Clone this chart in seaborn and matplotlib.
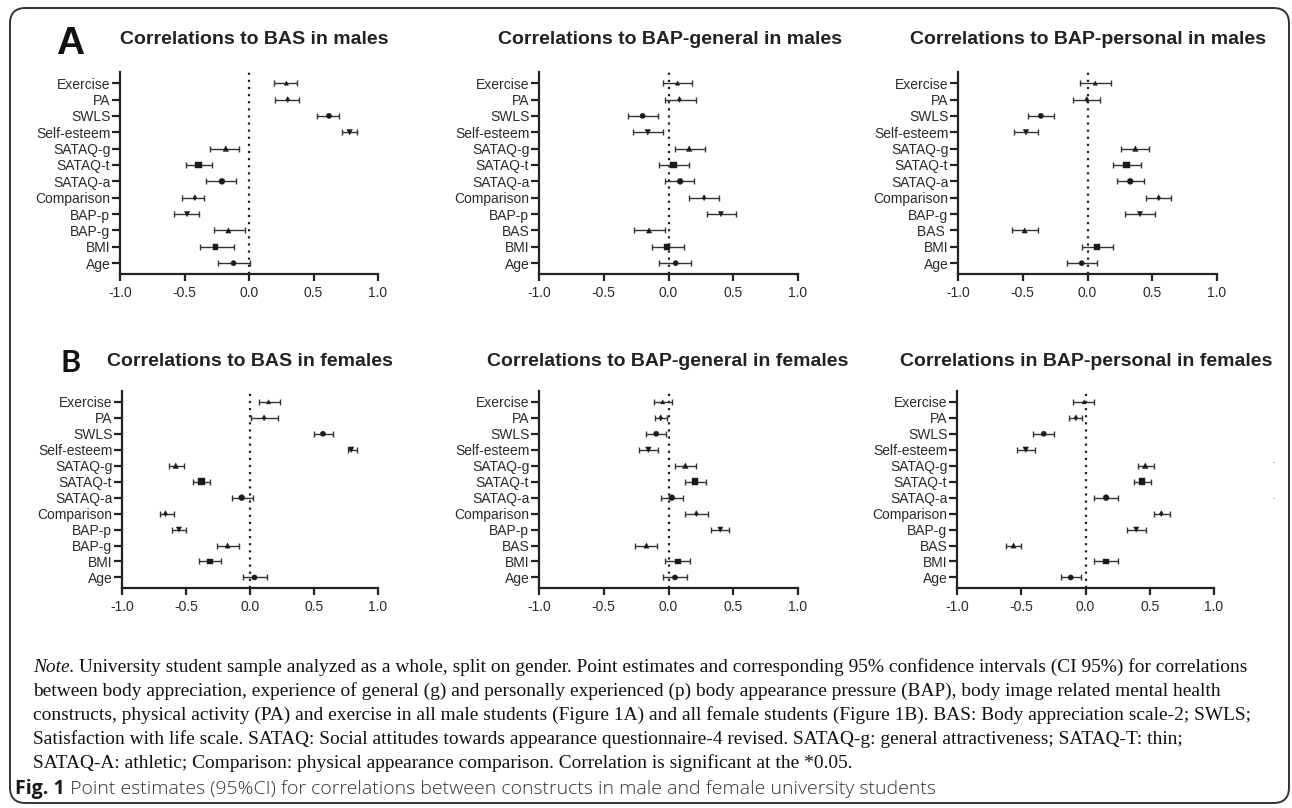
import numpy as np
import pandas as pd
import matplotlib
matplotlib.use("Agg")
import matplotlib.pyplot as plt
import seaborn as sns
from matplotlib.patches import FancyBboxPatch

# ---------------- data ----------------
labels_bas = ["Exercise", "PA", "SWLS", "Self-esteem", "SATAQ-g", "SATAQ-t",
              "SATAQ-a", "Comparison", "BAP-p", "BAP-g", "BMI", "Age"]
labels_bapg = ["Exercise", "PA", "SWLS", "Self-esteem", "SATAQ-g", "SATAQ-t",
               "SATAQ-a", "Comparison", "BAP-p", "BAS", "BMI", "Age"]
labels_bapp_m = ["Exercise", "PA", "SWLS", "Self-esteem", "SATAQ-g", "SATAQ-t",
                 "SATAQ-a", "Comparison", "BAP-g", "BAS ", "BMI", "Age"]
labels_bapp_f = ["Exercise", "PA", "SWLS", "Self-esteem", "SATAQ-g", "SATAQ-t",
                 "SATAQ-a", "Comparison", "BAP-g", "BAS", "BMI", "Age"]

# A: males
bas_m_r = [0.29, 0.30, 0.62, 0.78, -0.18, -0.39, -0.21, -0.42, -0.48, -0.16, -0.26, -0.12]
bas_m_lo = [0.19, 0.20, 0.53, 0.72, -0.30, -0.49, -0.33, -0.52, -0.58, -0.27, -0.38, -0.24]
bas_m_hi = [0.375, 0.39, 0.70, 0.835, -0.08, -0.29, -0.10, -0.35, -0.385, -0.03, -0.12, 0.005]

bapg_m_r = [0.07, 0.085, -0.20, -0.16, 0.16, 0.04, 0.09, 0.275, 0.405, -0.15, -0.01, 0.055]
bapg_m_lo = [-0.04, -0.03, -0.31, -0.275, 0.05, -0.075, -0.025, 0.16, 0.30, -0.27, -0.13, -0.07]
bapg_m_hi = [0.185, 0.21, -0.08, -0.045, 0.28, 0.16, 0.20, 0.39, 0.52, -0.03, 0.12, 0.175]

bapp_m_r = [0.06, -0.005, -0.36, -0.475, 0.37, 0.30, 0.33, 0.55, 0.405, -0.485, 0.07, -0.045]
bapp_m_lo = [-0.06, -0.11, -0.46, -0.57, 0.26, 0.20, 0.23, 0.455, 0.29, -0.58, -0.045, -0.155]
bapp_m_hi = [0.185, 0.095, -0.26, -0.38, 0.475, 0.41, 0.435, 0.645, 0.52, -0.38, 0.20, 0.07]

# B: females
bas_f_r = [0.145, 0.11, 0.57, 0.79, -0.58, -0.38, -0.065, -0.66, -0.555, -0.175, -0.315, 0.035]
bas_f_lo = [0.07, 0.005, 0.50, 0.765, -0.635, -0.445, -0.14, -0.70, -0.61, -0.255, -0.395, -0.055]
bas_f_hi = [0.235, 0.22, 0.645, 0.835, -0.515, -0.31, 0.02, -0.59, -0.50, -0.085, -0.23, 0.13]

bapg_f_r = [-0.045, -0.06, -0.095, -0.155, 0.13, 0.205, 0.025, 0.215, 0.40, -0.17, 0.07, 0.05]
bapg_f_lo = [-0.11, -0.105, -0.17, -0.23, 0.05, 0.13, -0.055, 0.13, 0.33, -0.26, -0.025, -0.045]
bapg_f_hi = [0.03, -0.01, -0.02, -0.08, 0.215, 0.29, 0.11, 0.305, 0.47, -0.09, 0.165, 0.145]

bapp_f_r = [-0.01, -0.075, -0.325, -0.465, 0.465, 0.44, 0.16, 0.59, 0.395, -0.56, 0.16, -0.115]
bapp_f_lo = [-0.10, -0.125, -0.405, -0.535, 0.41, 0.375, 0.07, 0.53, 0.325, -0.615, 0.07, -0.19]
bapp_f_hi = [0.07, -0.025, -0.245, -0.395, 0.53, 0.51, 0.25, 0.655, 0.47, -0.50, 0.25, -0.035]

x_ticks = [-1.0, -0.5, 0.0, 0.5, 1.0]
x_ticklabels = ["-1.0", "-0.5", "0.0", "0.5", "1.0"]

titles = ["Correlations to BAS in males",
          "Correlations to BAP-general in males",
          "Correlations to BAP-personal in males",
          "Correlations to BAS in females",
          "Correlations to BAP-general in females",
          "Correlations in BAP-personal in females"]

note_lines = [
    "University student sample analyzed as a whole, split on gender. Point estimates and corresponding 95% confidence intervals (CI 95%) for correlations",
    "between body appreciation, experience of general (g) and personally experienced (p) body appearance pressure (BAP), body image related mental health",
    "constructs, physical activity (PA) and exercise in all male students (Figure 1A) and all female students (Figure 1B). BAS: Body appreciation scale-2; SWLS;",
    "Satisfaction with life scale. SATAQ: Social attitudes towards appearance questionnaire-4 revised. SATAQ-g: general attractiveness; SATAQ-T: thin;",
    "SATAQ-A: athletic; Comparison: physical appearance comparison. Correlation is significant at the *0.05.",
]
caption_bold = "Fig. 1"
caption_text = " Point estimates (95%CI) for correlations between constructs in male and female university students"

# ---------------- style ----------------
sns.set_theme(style="ticks")
plt.rcParams["font.family"] = ["Liberation Sans", "DejaVu Sans"]
plt.rcParams["axes.unicode_minus"] = False

row_markers = ["^", "d", "o", "v", "^", "s", "o", "d", "v", "^", "s", "o"]
row_sizes = [9, 9, 14, 16, 16, 22, 18, 9, 14, 14, 18, 14]
INK = "#222222"

W, H = 1292, 808
fig = plt.figure(figsize=(W / 100, H / 100), dpi=100)


def fx(px):
    return px / W


def fy(py):
    return 1 - py / H


# axes boxes in pixels: (left, right, top, bottom)
boxes = [(120, 378, 72, 274), (539, 798, 72, 274), (958, 1217, 72, 274),
         (122, 378, 391, 588), (539, 798, 391, 588), (957, 1214, 391, 588)]
title_pos = [(254, 39), (670, 39), (1088, 39), (250, 362), (668, 362), (1086, 362)]

panels = [
    (labels_bas, bas_m_r, bas_m_lo, bas_m_hi),
    (labels_bapg, bapg_m_r, bapg_m_lo, bapg_m_hi),
    (labels_bapp_m, bapp_m_r, bapp_m_lo, bapp_m_hi),
    (labels_bas, bas_f_r, bas_f_lo, bas_f_hi),
    (labels_bapg, bapg_f_r, bapg_f_lo, bapg_f_hi),
    (labels_bapp_f, bapp_f_r, bapp_f_lo, bapp_f_hi),
]

for i, ((labels, r, lo, hi), (l, rt, t, b)) in enumerate(zip(panels, boxes)):
    ax = fig.add_axes([fx(l), fy(b), fx(rt - l), (b - t) / H])
    df = pd.DataFrame({"label": labels, "r": r, "lo": lo, "hi": hi})
    df["pos"] = np.arange(len(df))
    ax.axvline(0, color=INK, lw=1.6, ls=(0, (1, 2.2)), zorder=1)
    ax.errorbar(df["r"], df["pos"],
                xerr=[df["r"] - df["lo"], df["hi"] - df["r"]],
                fmt="none", ecolor="#333333", elinewidth=1.0,
                capsize=2.3, capthick=1.0, zorder=2)
    sns.scatterplot(data=df, x="r", y="pos", style="label", size="label",
                    markers=dict(zip(labels, row_markers)),
                    sizes=dict(zip(labels, row_sizes)),
                    color="#1a1a1a", edgecolor="#1a1a1a", linewidth=0.3,
                    legend=False, ax=ax, zorder=3)
    ax.set_xlim(-1.0, 1.0)
    ax.set_ylim(11.66, -0.68)
    ax.set_yticks(df["pos"])
    ax.set_yticklabels(labels)
    ax.set_xticks(x_ticks)
    ax.set_xticklabels(x_ticklabels)
    ax.set_xlabel("")
    ax.set_ylabel("")
    for s in ["top", "right"]:
        ax.spines[s].set_visible(False)
    for s in ["left", "bottom"]:
        ax.spines[s].set_linewidth(1.6)
        ax.spines[s].set_color(INK)
    ax.tick_params(axis="y", length=6, width=1.6, pad=1, labelsize=10,
                   color=INK, labelcolor="#2a2a2a")
    ax.tick_params(axis="x", length=5, width=1.6, pad=3.5, labelsize=10,
                   color=INK, labelcolor="#2a2a2a")
    ax.set_facecolor("none")
    tx, ty = title_pos[i]
    fig.text(fx(tx), fy(ty), titles[i], ha="center", va="center",
             fontsize=14, fontweight="bold", color=INK)

# panel letters
fig.text(fx(56), fy(54), "A", fontsize=28, fontweight="bold", color="#111111",
         ha="left", va="baseline")
fig.text(fx(61), fy(372), "B", fontsize=22, fontweight="bold", color="#111111",
         ha="left", va="baseline", family=["Lato", "Liberation Sans", "DejaVu Sans"])

# faint stray marks at right edge of last panel
fig.text(fx(1274), fy(463), "·", fontsize=9, color="#777777", ha="center", va="center")
fig.text(fx(1274), fy(499), "·", fontsize=9, color="#777777", ha="center", va="center")

# ---------------- note & caption ----------------
fig.canvas.draw()
rend = fig.canvas.get_renderer()

serif = ["Liberation Serif", "DejaVu Serif"]
note_fs = 12.5
probe_i = fig.text(0, 0, "Note. ", fontsize=note_fs, family=serif, style="italic")
probe_r = fig.text(0, 0, note_lines[0], fontsize=note_fs, family=serif)
w_total = probe_i.get_window_extent(rend).width + probe_r.get_window_extent(rend).width
probe_i.remove()
probe_r.remove()
note_fs = note_fs * (1215.0 / w_total)

note_x = 33
note_y0 = 667
note_dy = 24
t_it = fig.text(fx(note_x), fy(note_y0), "Note. ", fontsize=note_fs, family=serif,
                style="italic", color="#111111", va="center", ha="left")
w_it = t_it.get_window_extent(rend).width
fig.text(fx(note_x + w_it), fy(note_y0), note_lines[0], fontsize=note_fs, family=serif,
         color="#111111", va="center", ha="left")
for k, line in enumerate(note_lines[1:], start=1):
    fig.text(fx(note_x), fy(note_y0 + k * note_dy), line, fontsize=note_fs,
             family=serif, color="#111111", va="center", ha="left")

cap_family = ["Open Sans", "DejaVu Sans"]
cap_fs = 12
pb = fig.text(0, 0, caption_bold, fontsize=cap_fs, family=cap_family, fontweight="bold")
pr = fig.text(0, 0, caption_text, fontsize=cap_fs, family=cap_family, fontweight="light")
w_cap = pb.get_window_extent(rend).width + pr.get_window_extent(rend).width
pb.remove()
pr.remove()
cap_fs = cap_fs * (917.0 / w_cap)
cap_x, cap_y = 15, 789
tb = fig.text(fx(cap_x), fy(cap_y), caption_bold, fontsize=cap_fs, family=cap_family,
              fontweight="bold", color="#1a1a1a", va="center", ha="left")
wb = tb.get_window_extent(rend).width
fig.text(fx(cap_x + wb), fy(cap_y), caption_text, fontsize=cap_fs, family=cap_family,
         fontweight="light", color="#333333", va="center", ha="left")

# outer rounded frame
frame = FancyBboxPatch((fx(10), fy(803)), fx(1289 - 10), (803 - 8) / H,
                       boxstyle="round,pad=0,rounding_size=0.012",
                       transform=fig.transFigure, fill=False,
                       edgecolor="#333333", linewidth=1.4,
                       mutation_aspect=W / H)
fig.add_artist(frame)

fig.savefig("out.png", dpi=100)
